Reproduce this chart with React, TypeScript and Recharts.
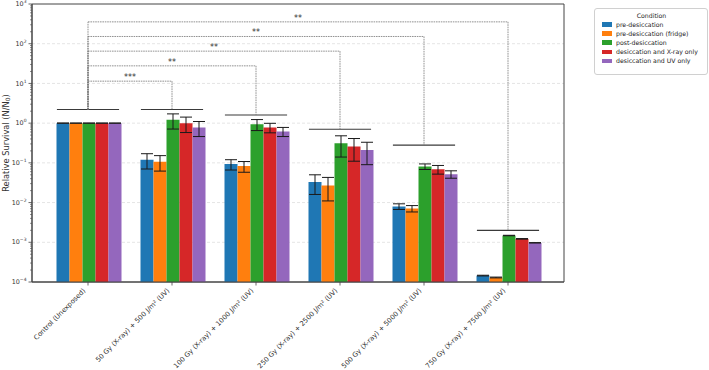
import React from 'react';
import {
  BarChart,
  Bar,
  XAxis,
  YAxis,
  CartesianGrid,
  ErrorBar,
  ReferenceLine,
  ReferenceArea,
  Legend,
} from 'recharts';

// Treatment groups along the x axis
const categories = [
  'Control (Unexposed)',
  '50 Gy (X-ray) + 500 J/m² (UV)',
  '100 Gy (X-ray) + 1000 J/m² (UV)',
  '250 Gy (X-ray) + 2500 J/m² (UV)',
  '500 Gy (X-ray) + 5000 J/m² (UV)',
  '750 Gy (X-ray) + 7500 J/m² (UV)',
];

const seriesNames = [
  'pre-desiccation',
  'pre-desiccation (fridge)',
  'post-desiccation',
  'desiccation and X-ray only',
  'desiccation and UV only',
];
const seriesColors = ['#1f77b4', '#ff7f0e', '#2ca02c', '#d62728', '#9467bd'];

// Relative survival (N/N0) per condition, and standard deviation
const preDesiccation = [1.0, 0.12, 0.093, 0.033, 0.008, 0.000145];
const preDesiccationErr = [0.006, 0.05, 0.027, 0.017, 0.0013, 0.000003];
const preDesiccationFridge = [1.0, 0.107, 0.083, 0.027, 0.0071, 0.00013];
const preDesiccationFridgeErr = [0.006, 0.045, 0.025, 0.016, 0.0013, 0.000003];
const postDesiccation = [1.0, 1.21, 0.94, 0.31, 0.081, 0.00148];
const postDesiccationErr = [0.006, 0.5, 0.29, 0.17, 0.013, 0.00002];
const xrayOnly = [1.0, 1.0, 0.78, 0.26, 0.069, 0.00122];
const xrayOnlyErr = [0.006, 0.42, 0.21, 0.15, 0.017, 0.00002];
const uvOnly = [1.0, 0.78, 0.62, 0.21, 0.052, 0.00097];
const uvOnlyErr = [0.006, 0.32, 0.16, 0.12, 0.011, 0.00001];

// Height of the bar-group bracket above each treatment group
const groupBracketLevels = [2.2, 2.2, 1.6, 0.7, 0.28, 0.002];

// Pairwise comparisons against the control group
const comparisonTargets = [1, 2, 3, 4, 5];
const comparisonLevels = [11.4, 27.7, 65, 152, 355];
const comparisonLabels = ['***', '**', '**', '**', '**'];

// Log-axis ticks
const yMajorTicks = [1e-4, 1e-3, 1e-2, 1e-1, 1, 10, 100, 1000];
const yGridValues = [1e-3, 1e-2, 1e-1, 1, 10, 100];
const minorMultipliers = [2, 3, 4, 5, 6, 7, 8, 9];
const yMinorTicks = yMajorTicks
  .slice(0, -1)
  .flatMap((d) => minorMultipliers.map((m) => d * m));
const yAllTicks = [...yMajorTicks, ...yMinorTicks].sort((a, b) => a - b);

const seriesValues = [preDesiccation, preDesiccationFridge, postDesiccation, xrayOnly, uvOnly];
const seriesErrors = [
  preDesiccationErr,
  preDesiccationFridgeErr,
  postDesiccationErr,
  xrayOnlyErr,
  uvOnlyErr,
];

const data = categories.map((name, i) => {
  const row: Record<string, number | string> = { name, idx: i };
  seriesValues.forEach((vals, s) => {
    row[`s${s}`] = vals[i];
    row[`s${s}Err`] = seriesErrors[s][i];
  });
  return row;
});

const FONT = 'DejaVu Sans, sans-serif';
const AXIS_COLOR = '#444';
const BRACKET_HALF = 0.37; // half width of a group bracket, in category units
const X_PAD = 2 / 3; // outer padding of the category positions, in category units

const YTick = (props: any) => {
  const { x, y, payload } = props;
  const v = payload.value as number;
  const lg = Math.log10(v);
  const exp = Math.round(lg);
  const isMajor = Math.abs(lg - exp) < 1e-6;
  if (!isMajor) {
    return <line x1={x} x2={x - 2} y1={y} y2={y} stroke={AXIS_COLOR} strokeWidth={0.6} />;
  }
  return (
    <g>
      <line x1={x} x2={x - 3.5} y1={y} y2={y} stroke={AXIS_COLOR} strokeWidth={0.8} />
      <text
        x={x - 5.5}
        y={y + 2.2}
        textAnchor="end"
        fontSize={6.4}
        fontFamily={FONT}
        fill="#333"
      >
        10
        <tspan dy={-3} fontSize={4.5}>
          {exp < 0 ? `\u2212${-exp}` : `${exp}`}
        </tspan>
      </text>
    </g>
  );
};

const XTick = (props: any) => {
  const { x, y, payload } = props;
  const tx = x - 2;
  const ty = y + 9;
  return (
    <g>
      <line x1={x} x2={x} y1={y} y2={y + 3.5} stroke={AXIS_COLOR} strokeWidth={0.8} />
      <text
        x={tx}
        y={ty}
        transform={`rotate(-45, ${tx}, ${ty})`}
        textAnchor="end"
        fontSize={6.8}
        fontFamily={FONT}
        fill="#333"
      >
        {payload.value}
      </text>
    </g>
  );
};

const YLabel = (props: any) => {
  const { viewBox } = props;
  const cx = viewBox.x + 8.5;
  const cy = viewBox.y + viewBox.height / 2;
  return (
    <text
      transform={`translate(${cx}, ${cy}) rotate(-90)`}
      textAnchor="middle"
      fontSize={8.3}
      fontFamily={FONT}
      fill="#333"
    >
      Relative Survival (N/N
      <tspan fontSize={6} dy={1.5}>
        0
      </tspan>
      <tspan dy={-1.5}>)</tspan>
    </text>
  );
};

// Legend listing the conditions in plotting order
const LegendBox = () => (
  <div
    style={{
      border: '1px solid #d0d0d0',
      borderRadius: 3,
      background: '#fff',
      padding: '2px 6px 9px 7px',
      fontFamily: FONT,
      fontSize: 6.2,
      color: '#222',
      boxSizing: 'border-box',
    }}
  >
    <div style={{ textAlign: 'center', lineHeight: '9px', height: 9 }}>Condition</div>
    {seriesNames.map((name, s) => (
      <div
        key={name}
        style={{ display: 'flex', alignItems: 'center', height: 9.1, lineHeight: '9px' }}
      >
        <span
          style={{
            display: 'inline-block',
            width: 10,
            height: 4.5,
            background: seriesColors[s],
            marginRight: 4,
            flex: 'none',
          }}
        />
        <span style={{ whiteSpace: 'nowrap' }}>{name}</span>
      </div>
    ))}
  </div>
);

const dashed = { stroke: '#777', strokeWidth: 0.8, strokeDasharray: '1.6 0.8' };

export default function App() {
  return (
    <div style={{ position: 'fixed', left: 0, top: 0, width: 709, height: 370, background: '#fff' }}>
      <BarChart
        width={709}
        height={370}
        data={data}
        margin={{ top: 4, right: 145, left: 0, bottom: 0 }}
        barCategoryGap="12.5%"
        barGap={0}
      >
        <CartesianGrid
          vertical={false}
          horizontalValues={yGridValues}
          stroke="#d8d8d8"
          strokeDasharray="3 2"
          strokeWidth={0.7}
        />
        <XAxis
          dataKey="name"
          interval={0}
          height={88}
          padding={{ left: 14, right: 14 }}
          tick={<XTick />}
          tickLine={false}
          tickSize={0}
          tickMargin={0}
          axisLine={{ stroke: AXIS_COLOR, strokeWidth: 1 }}
        />
        <XAxis
          xAxisId="pos"
          dataKey="idx"
          type="number"
          domain={[-X_PAD, categories.length - 1 + X_PAD]}
          allowDataOverflow
          hide
        />
        <YAxis
          scale="log"
          domain={[1e-4, 1e3]}
          allowDataOverflow
          ticks={yAllTicks}
          interval={0}
          width={32}
          tick={<YTick />}
          tickLine={false}
          tickSize={0}
          tickMargin={0}
          axisLine={{ stroke: AXIS_COLOR, strokeWidth: 1 }}
          label={<YLabel />}
        />
        {seriesNames.map((name, s) => (
          <Bar
            key={name}
            dataKey={`s${s}`}
            name={name}
            fill={seriesColors[s]}
            isAnimationActive={false}
          >
            <ErrorBar
              dataKey={`s${s}Err`}
              width={6}
              stroke="#1a1a1a"
              strokeWidth={1}
              isAnimationActive={false}
            />
          </Bar>
        ))}

        {/* plot frame */}
        <ReferenceArea
          xAxisId="pos"
          x1={-X_PAD}
          x2={categories.length - 1 + X_PAD}
          y1={1e-4}
          y2={1e3}
          fill="none"
          stroke={AXIS_COLOR}
          strokeWidth={1}
          ifOverflow="visible"
        />

        {/* group brackets */}
        {groupBracketLevels.map((lvl, i) => (
          <ReferenceLine
            key={`g${i}`}
            xAxisId="pos"
            segment={[
              { x: i - BRACKET_HALF, y: lvl },
              { x: i + BRACKET_HALF, y: lvl },
            ]}
            stroke="#3a3a3a"
            strokeWidth={1.1}
            ifOverflow="visible"
          />
        ))}

        {/* comparisons against control */}
        {comparisonTargets.map((t, k) => (
          <ReferenceLine
            key={`cl${k}`}
            xAxisId="pos"
            segment={[
              { x: 0, y: groupBracketLevels[0] },
              { x: 0, y: comparisonLevels[k] },
            ]}
            {...dashed}
            ifOverflow="visible"
          />
        ))}
        {comparisonTargets.map((t, k) => (
          <ReferenceLine
            key={`ch${k}`}
            xAxisId="pos"
            segment={[
              { x: 0, y: comparisonLevels[k] },
              { x: t, y: comparisonLevels[k] },
            ]}
            {...dashed}
            ifOverflow="visible"
            label={{
              value: comparisonLabels[k],
              position: 'top',
              offset: 1,
              fontSize: 8,
              fontFamily: FONT,
              fill: '#333',
            }}
          />
        ))}
        {comparisonTargets.map((t, k) => (
          <ReferenceLine
            key={`cr${k}`}
            xAxisId="pos"
            segment={[
              { x: t, y: comparisonLevels[k] },
              { x: t, y: groupBracketLevels[t] },
            ]}
            {...dashed}
            ifOverflow="visible"
          />
        ))}

        <Legend
          layout="horizontal"
          verticalAlign="middle"
          align="center"
          content={<LegendBox />}
          wrapperStyle={{ left: 594, top: 8, width: 114, height: 'auto' }}
        />
      </BarChart>
    </div>
  );
}
